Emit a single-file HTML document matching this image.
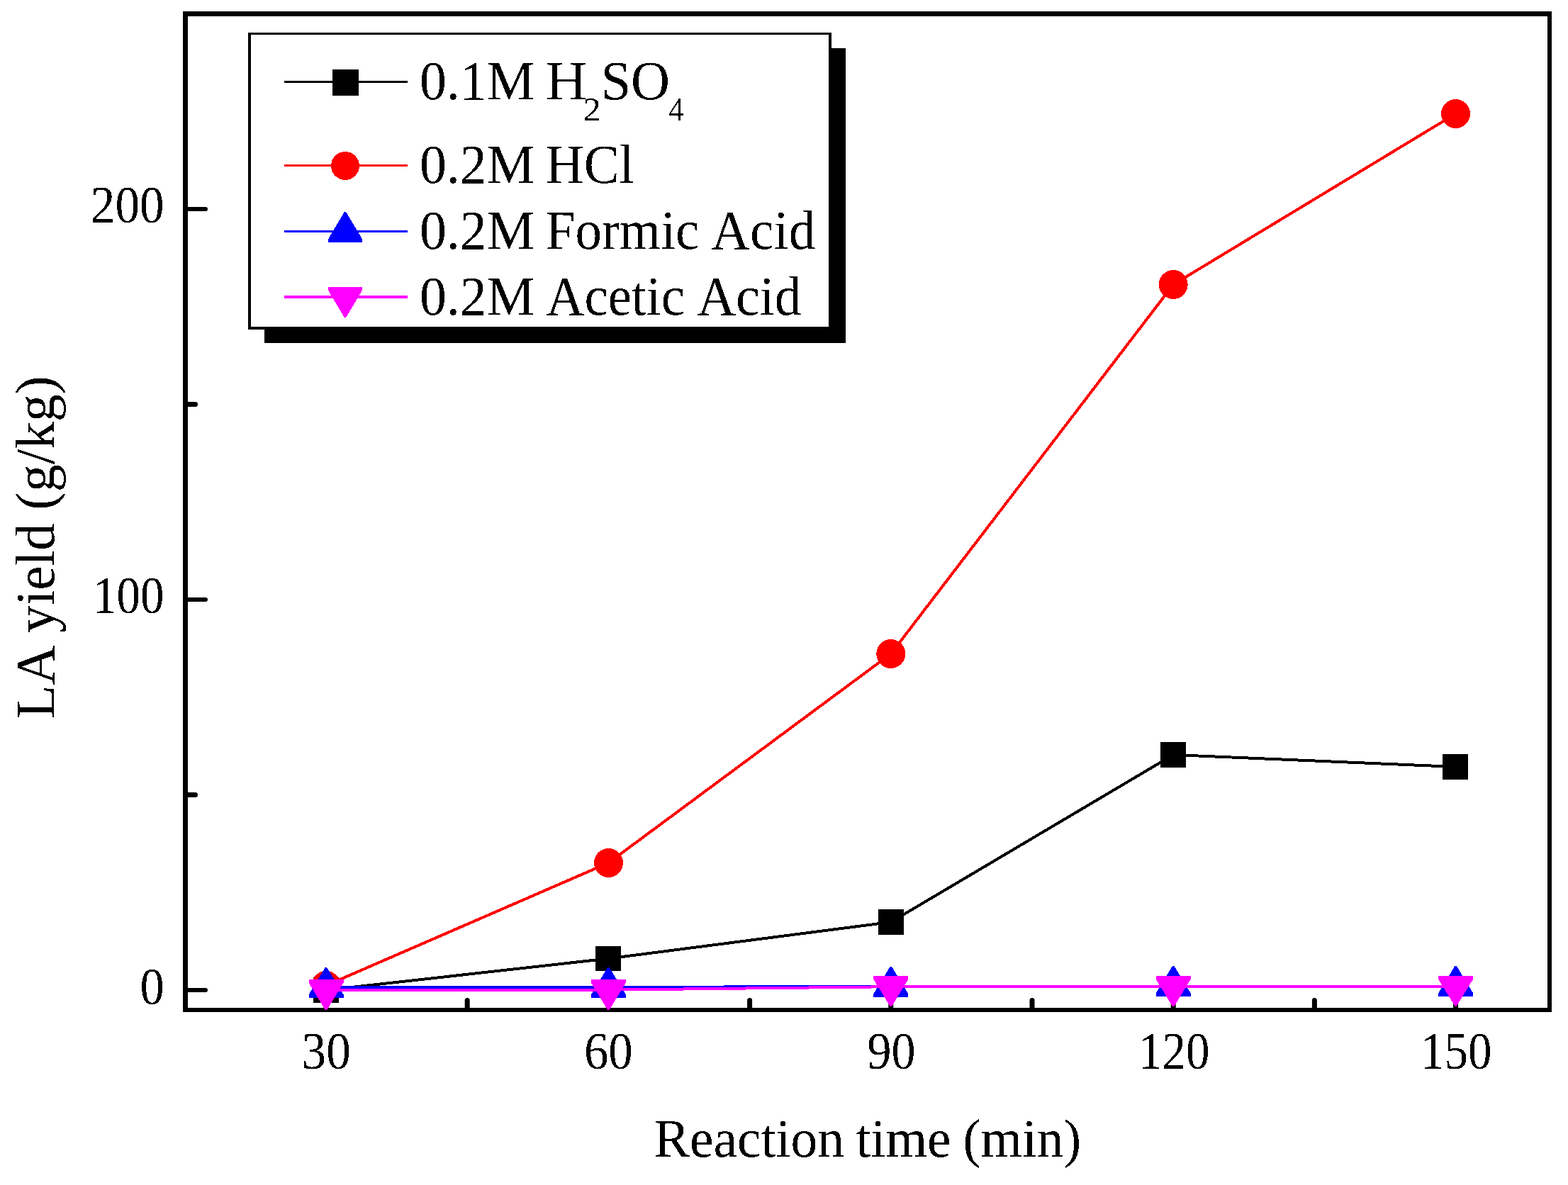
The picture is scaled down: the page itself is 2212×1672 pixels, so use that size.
<!DOCTYPE html>
<html><head><meta charset="utf-8"><title>LA yield vs reaction time</title>
<style>
html,body{margin:0;padding:0;background:#fff;overflow:hidden;}
svg{display:block;}
text{font-family:"Liberation Serif","Times New Roman",serif;fill:#000;}
</style></head>
<body>
<svg width="2212" height="1672" viewBox="0 0 2212 1672">
<rect width="2212" height="1672" fill="#fff"/>
<defs><filter id="bin" x="0" y="0" width="2212" height="1672" filterUnits="userSpaceOnUse" color-interpolation-filters="sRGB"><feComponentTransfer><feFuncA type="discrete" tableValues="0 1"/></feComponentTransfer></filter></defs>
<g fill="#000">
<rect x="258" y="16" width="7" height="1412"/>
<rect x="258" y="16" width="1931" height="7"/>
<rect x="2183" y="16" width="6" height="1412"/>
<rect x="258" y="1422" width="1931" height="6"/>
</g>
<g stroke="#000" stroke-linecap="round">
<line x1="262" y1="295.0" x2="290.0" y2="295.0" stroke-width="6"/>
<line x1="262" y1="846.0" x2="290.0" y2="846.0" stroke-width="6"/>
<line x1="262" y1="1397.0" x2="290.0" y2="1397.0" stroke-width="6"/>
<line x1="262" y1="570.5" x2="275.5" y2="570.5" stroke-width="7"/>
<line x1="262" y1="1121.5" x2="275.5" y2="1121.5" stroke-width="7"/>
<line x1="460.0" y1="1424" x2="460.0" y2="1397.5" stroke-width="7"/>
<line x1="659.2" y1="1424" x2="659.2" y2="1411.5" stroke-width="7"/>
<line x1="858.4" y1="1424" x2="858.4" y2="1397.5" stroke-width="7"/>
<line x1="1057.6" y1="1424" x2="1057.6" y2="1411.5" stroke-width="7"/>
<line x1="1256.8" y1="1424" x2="1256.8" y2="1397.5" stroke-width="7"/>
<line x1="1456.0" y1="1424" x2="1456.0" y2="1411.5" stroke-width="7"/>
<line x1="1655.2" y1="1424" x2="1655.2" y2="1397.5" stroke-width="7"/>
<line x1="1854.4" y1="1424" x2="1854.4" y2="1411.5" stroke-width="7"/>
<line x1="2053.6" y1="1424" x2="2053.6" y2="1397.5" stroke-width="7"/>
</g>
<g shape-rendering="crispEdges">
<polyline points="460.0,1397.0 858.4,1352.5 1256.8,1301.0 1655.2,1065.0 2053.6,1082.0" fill="none" stroke="#000" stroke-width="4" stroke-linejoin="round"/>
<rect x="442" y="1379" width="36" height="36" fill="#000"/>
<rect x="840" y="1335" width="36" height="35" fill="#000"/>
<rect x="1239" y="1283" width="36" height="36" fill="#000"/>
<rect x="1637" y="1047" width="36" height="36" fill="#000"/>
<rect x="2035" y="1064" width="36" height="36" fill="#000"/>
<polyline points="460.0,1390.5 858.4,1217.5 1256.8,922.5 1655.2,401.5 2053.6,160.5" fill="none" stroke="#f00" stroke-width="4" stroke-linejoin="round"/>
<circle cx="460.0" cy="1390.5" r="20.5" fill="#f00"/>
<circle cx="858.4" cy="1217.5" r="20.5" fill="#f00"/>
<circle cx="1256.8" cy="922.5" r="20.5" fill="#f00"/>
<circle cx="1655.2" cy="401.5" r="20.5" fill="#f00"/>
<circle cx="2053.6" cy="160.5" r="20.5" fill="#f00"/>
<polyline points="460.0,1393.0 858.4,1393.0 1256.8,1391.8 1655.2,1392.0 2053.6,1392.0" fill="none" stroke="#00f" stroke-width="4" stroke-linejoin="round"/>
<polygon points="458.8,1365.0 461.2,1365.0 484.5,1403.4 484.5,1408.0 435.5,1408.0 435.5,1403.4" fill="#00f"/>
<polygon points="857.2,1365.0 859.6,1365.0 882.9,1403.4 882.9,1408.0 833.9,1408.0 833.9,1403.4" fill="#00f"/>
<polygon points="1255.6,1364.0 1258.0,1364.0 1281.3,1402.4 1281.3,1407.0 1232.3,1407.0 1232.3,1402.4" fill="#00f"/>
<polygon points="1654.0,1363.0 1656.4,1363.0 1679.7,1401.4 1679.7,1406.0 1630.7,1406.0 1630.7,1401.4" fill="#00f"/>
<polygon points="2052.4,1363.0 2054.8,1363.0 2078.1,1401.4 2078.1,1406.0 2029.1,1406.0 2029.1,1401.4" fill="#00f"/>
<polyline points="460.0,1396.7 858.4,1396.7 1256.8,1392.2 1655.2,1392.0 2053.6,1391.9" fill="none" stroke="#f0f" stroke-width="4" stroke-linejoin="round"/>
<polygon points="435.5,1382.0 484.5,1382.0 484.5,1386.6 461.2,1425.0 458.8,1425.0 435.5,1386.6" fill="#f0f"/>
<polygon points="833.9,1382.0 882.9,1382.0 882.9,1386.6 859.6,1425.0 857.2,1425.0 833.9,1386.6" fill="#f0f"/>
<polygon points="1232.3,1377.0 1281.3,1377.0 1281.3,1381.6 1258.0,1420.0 1255.6,1420.0 1232.3,1381.6" fill="#f0f"/>
<polygon points="1630.7,1377.0 1679.7,1377.0 1679.7,1381.6 1656.4,1420.0 1654.0,1420.0 1630.7,1381.6" fill="#f0f"/>
<polygon points="2029.1,1377.0 2078.1,1377.0 2078.1,1381.6 2054.8,1419.5 2052.4,1419.5 2029.1,1381.6" fill="#f0f"/>
</g>
<rect x="373" y="68" width="820" height="416" fill="#000"/>
<rect x="350" y="46" width="823" height="419" fill="#fff"/>
<g fill="#000"><rect x="350" y="46" width="4" height="419"/><rect x="350" y="46" width="823" height="3"/><rect x="1169" y="46" width="4" height="419"/><rect x="350" y="461" width="823" height="4"/></g>
<g shape-rendering="crispEdges">
<rect x="401" y="114" width="173.5" height="3" fill="#000"/>
<rect x="469.0" y="97.9" width="37" height="37" fill="#000"/>
<rect x="401" y="232" width="173.5" height="3" fill="#f00"/>
<circle cx="487.0" cy="234.0" r="20.0" fill="#f00"/>
<rect x="401" y="325" width="173.5" height="3" fill="#00f"/>
<polygon points="485.8,299.0 488.2,299.0 511.0,337.4 511.0,342.0 463.0,342.0 463.0,337.4" fill="#00f"/>
<rect x="401" y="417" width="173.5" height="3.6" fill="#f0f"/>
<polygon points="463.0,405.0 511.0,405.0 511.0,409.6 488.2,448.0 485.8,448.0 463.0,409.6" fill="#f0f"/>
</g>
<g filter="url(#bin)">
<text font-size="72.9" transform="translate(425.59 1508.0) scale(0.9484 1.01)">30</text>
<text font-size="72.9" transform="translate(823.94 1508.0) scale(0.9434 1.01)">60</text>
<text font-size="72.9" transform="translate(1223.61 1508.0) scale(0.9325 1.01)">90</text>
<text font-size="72.9" transform="translate(1606.01 1508.0) scale(0.9195 1.01)">120</text>
<text font-size="72.9" transform="translate(2004.01 1508.0) scale(0.9195 1.01)">150</text>
<text font-size="72.9" transform="translate(197.39 1417.0) scale(0.9386 1.01)">0</text>
<text font-size="72.9" transform="translate(130.90 865.0) scale(0.9205 1.01)">100</text>
<text font-size="72.9" transform="translate(127.86 314.0) scale(0.9490 1.01)">200</text>
<text font-size="77.8" transform="translate(591.91 139.8) scale(0.9759 1.0)">0.1M</text>
<text font-size="77.8" transform="translate(769.45 139.8) scale(1.0491 1.0)">H</text>
<text font-size="46.6" transform="translate(822.81 169.7) scale(1.0706 1.0)">2</text>
<text font-size="77.8" transform="translate(847.70 139.8) scale(0.9796 1.0)">SO</text>
<text font-size="46.6" transform="translate(943.16 169.7) scale(0.9187 1.0)">4</text>
<text font-size="77.8" transform="translate(591.91 257.8) scale(0.9759 1.0)">0.2M</text>
<text font-size="77.8" transform="translate(769.74 257.8) scale(0.9627 1.0)">HCl</text>
<text font-size="77.8" transform="translate(591.91 351) scale(0.9759 1.0)">0.2M</text>
<text font-size="77.8" transform="translate(769.74 351) scale(0.9636 1.0)">Formic</text>
<text font-size="77.8" transform="translate(1003.16 351) scale(0.9758 1.0)">Acid</text>
<text font-size="77.8" transform="translate(591.91 443.8) scale(0.9759 1.0)">0.2M</text>
<text font-size="77.8" transform="translate(770.27 443.8) scale(0.9642 1.0)">Acetic</text>
<text font-size="77.8" transform="translate(983.16 443.8) scale(0.9764 1.0)">Acid</text>
<text font-size="77.1" transform="translate(922.73 1631.7) scale(0.9788 1.0)">Reaction</text>
<text font-size="77.1" transform="translate(1207.46 1631.7) scale(0.9790 1.0)">time</text>
<text font-size="77.1" transform="translate(1358.50 1631.7) scale(0.9738 1.0)">(min)</text>
<text font-size="77.3" transform="translate(76.1 1012) rotate(-90) translate(-2.25 0) scale(1.0095 1)">LA</text>
<text font-size="77.3" transform="translate(76.1 891.8) rotate(-90) translate(-0.94 0) scale(0.9995 1)">yield</text>
<text font-size="77.3" transform="translate(76.1 716.4) rotate(-90) translate(-3.41 0) scale(1.0027 1)">(g/kg)</text>
</g>
</svg>
</body></html>
